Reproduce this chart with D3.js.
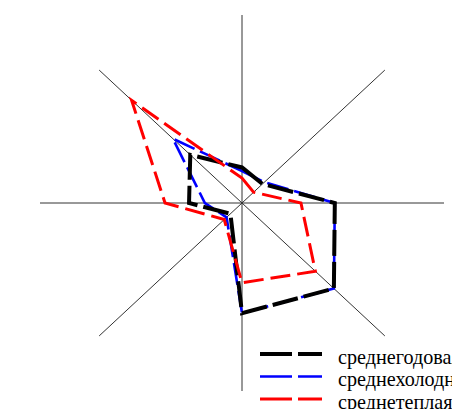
<!DOCTYPE html>
<html>
<head>
<meta charset="utf-8">
<script src="https://cdn.jsdelivr.net/npm/d3@7"></script>
<style>
  body { margin: 0; background: #fff; overflow: hidden; }
  svg { display: block; }
</style>
</head>
<body>
<svg id="chart" width="452" height="409"></svg>
<script>
    // румбы: С, СВ, В, ЮВ, Ю, ЮЗ, З, СЗ
    const directions = ['N', 'NE', 'E', 'SE', 'S', 'SW', 'W', 'NW'];
    const seriesNames = ['среднегодовая', 'среднехолодная', 'среднетеплая'];
    // повторяемость, %
    const yearValues = [7, 5.3, 17, 23.8, 21.7, 3, 9.7, 13.4];
    const coldValues = [6.3, 5.8, 17, 23.8, 21.7, 4, 6.8, 17.9];
    const warmValues = [4.9, 3, 10.8, 19, 15.7, 4.6, 14.1, 28.6];
    const rMax = 37;

    let svg = d3.select('#chart'),
        cx = 242, cy = 203;

    // по горизонтали ось длиннее, чем по вертикали
    let rx = d3.scaleLinear().domain([0, rMax]).range([0, 202]),
        ry = d3.scaleLinear().domain([0, rMax]).range([0, 188]),
        angle = d3.scalePoint().domain(directions).range([0, 2 * Math.PI * 7 / 8]);

    function px(d, v){ return cx + rx(v) * Math.sin(angle(d)); }
    function py(d, v){ return cy - ry(v) * Math.cos(angle(d)); }

    // оси
    svg.append('g').selectAll('line')
        .data(directions)
        .join('line')
        .attr('x1', d => px(d, rMax))
        .attr('y1', d => py(d, rMax))
        .attr('x2', d => px(d, 0))
        .attr('y2', d => py(d, 0))
        .attr('stroke', '#333')
        .attr('stroke-width', 1);

    let line = d3.line()
        .x(d => px(d.dir, d.v))
        .y(d => py(d.dir, d.v))
        .curve(d3.curveLinearClosed);

    let series = [
        {name: seriesNames[1], values: coldValues, color: '#0000ff', width: 2.6, dash: '22,6'},
        {name: seriesNames[0], values: yearValues, color: '#000000', width: 4, dash: '26,6'},
        {name: seriesNames[2], values: warmValues, color: '#ff0000', width: 3, dash: '20,7'}
    ];

    svg.append('g').selectAll('path')
        .data(series)
        .join('path')
        .attr('d', s => line(directions.map((dir, i) => ({dir: dir, v: s.values[i]}))))
        .attr('fill', 'none')
        .attr('stroke', s => s.color)
        .attr('stroke-width', s => s.width)
        .attr('stroke-dasharray', s => s.dash)
        .attr('stroke-linejoin', 'miter');

    // легенда (в оригинале подписи обрезаны краем рисунка)
    let legendOrder = [series[1], series[0], series[2]];
    let leg = svg.append('g').selectAll('g')
        .data(legendOrder)
        .join('g')
        .attr('transform', (d, i) => `translate(260,${354 + i * 22.5})`);

    leg.append('line')
        .attr('x1', 0).attr('x2', 62)
        .attr('y1', 0).attr('y2', 0)
        .attr('stroke', d => d.color)
        .attr('stroke-width', d => d.width)
        .attr('stroke-dasharray', '32,6');

    leg.append('text')
        .attr('transform', 'translate(78,9.5) scale(0.96,1)')
        .attr('font-family', '"Liberation Serif", "Times New Roman", serif')
        .attr('font-size', 21)
        .attr('fill', '#000')
        .text(d => d.name);
</script>
</body>
</html>
